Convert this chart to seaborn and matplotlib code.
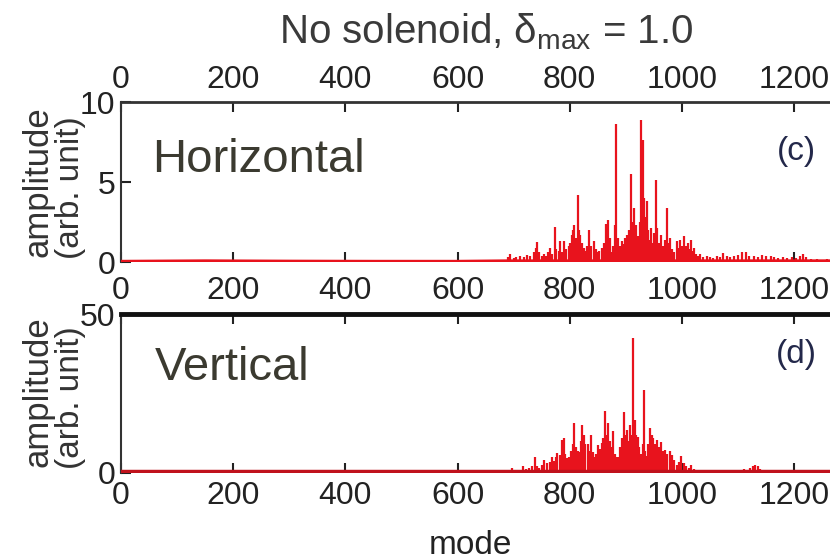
import numpy as np
import pandas as pd
import matplotlib
matplotlib.use("Agg")
import matplotlib.pyplot as plt
import seaborn as sns

# ---------------- data ----------------
h_modes = [690, 694, 700, 705, 712, 718, 724, 730, 736, 740, 742, 746, 750, 754, 758, 762, 764, 768,
           773, 776, 780, 783, 787, 790, 794, 798, 801, 804, 806, 808, 811, 814, 816, 819, 822, 825,
           828, 831, 835, 838, 843, 846, 850, 853, 857, 861, 865, 868, 871, 874, 877, 880, 883, 886,
           889, 893, 896, 899, 902, 905, 909, 911, 914, 917, 919, 922, 925, 927, 929, 931, 933, 935,
           937, 940, 942, 944, 947, 950, 953, 956, 959, 963, 966, 969, 973, 976, 978, 982, 986, 991,
           994, 997, 1001, 1004, 1007, 1010, 1013, 1016, 1019, 1021, 1025, 1029, 1033, 1038, 1045,
           1050, 1056, 1062, 1068, 1074, 1080, 1086, 1092, 1100, 1107, 1114, 1120, 1128, 1135, 1142,
           1150, 1158, 1165, 1172, 1180, 1188, 1196, 1203, 1210, 1216, 1222, 1230, 1240, 1250, 1258]
h_amps = [0.3, 0.5, 0.25, 0.3, 0.4, 0.3, 0.45, 0.35, 0.6, 0.9, 1.25, 0.6, 0.4, 0.5, 0.35, 0.6, 0.9, 0.5,
          2.2, 0.8, 0.7, 1.3, 0.6, 1.3, 0.8, 1.0, 1.2, 1.7, 2.0, 2.3, 1.5, 4.2, 2.0, 1.7, 1.2, 0.9,
          0.7, 1.0, 2.0, 1.0, 1.3, 0.8, 0.6, 0.7, 0.9, 1.2, 2.35, 2.6, 1.5, 0.6, 1.0, 2.3, 8.6, 1.5,
          1.0, 1.3, 1.1, 1.5, 1.7, 2.0, 5.5, 2.5, 3.4, 1.8, 2.3, 1.6, 2.5, 8.9, 4.6, 7.6, 4.0, 2.8,
          3.8, 2.0, 1.4, 2.1, 1.2, 1.8, 5.1, 2.1, 1.2, 1.7, 1.0, 1.4, 3.4, 1.2, 1.5, 0.8, 0.6, 1.3,
          0.9, 1.4, 1.0, 1.6, 1.0, 1.2, 0.8, 1.4, 0.7, 0.9, 0.5, 0.4, 0.5, 0.3, 0.4,
          0.3, 0.25, 0.4, 0.3, 0.55, 0.35, 0.3, 0.4, 0.45, 0.6, 0.6, 0.4, 0.35, 0.3, 0.45,
          0.4, 0.35, 0.3, 0.25, 0.3, 0.25, 0.3, 0.25, 0.35, 0.5, 0.3, 0.2, 0.2, 0.15, 0.2]

v_modes = [690, 697, 703, 710, 717, 722, 728, 733, 738, 742, 746, 750, 755, 760, 764, 768, 772, 775,
           778, 782, 786, 789, 792, 796, 799, 802, 805, 808, 811, 814, 817, 820, 822, 825, 828, 832,
           835, 838, 841, 844, 847, 851, 854, 858, 860, 863, 866, 869, 872, 875, 878, 881, 884, 887,
           890, 893, 897, 900, 902, 905, 908, 910, 912, 914, 916, 919, 921, 924, 927, 930, 932, 935,
           938, 940, 943, 946, 949, 952, 956, 959, 963, 966, 970, 974, 978, 982, 986, 991, 995, 999,
           1003, 1007, 1012, 1017, 1022, 1027, 1032, 1038, 1044, 1050, 1058, 1066, 1075, 1082, 1090,
           1097, 1104, 1110, 1116, 1122, 1127, 1131, 1135, 1140, 1146, 1155, 1165, 1180, 1200, 1220, 1240]
v_amps = [0.8, 1.5, 0.8, 1.0, 2.1, 1.2, 1.5, 2.0, 5.0, 2.0, 1.5, 2.5, 4.0, 3.0, 3.5, 4.8, 3.8, 5.0,
          6.2, 5.5, 10.3, 10.8, 6.0, 4.5, 4.8, 7.0, 9.0, 15.8, 8.0, 7.0, 6.6, 10.0, 15.0, 12.0, 9.0, 9.0,
          7.0, 12.0, 6.6, 5.0, 6.0, 8.8, 7.5, 9.3, 11.0, 19.6, 12.0, 15.7, 10.0, 8.0, 13.1, 6.0, 5.0, 4.8,
          8.0, 11.0, 19.2, 12.0, 13.5, 10.0, 15.0, 12.0, 42.4, 14.0, 16.6, 12.0, 11.3, 8.0, 6.0, 9.0, 26.1, 7.0,
          5.2, 9.0, 14.0, 12.0, 10.8, 9.0, 10.3, 8.0, 9.8, 7.0, 7.2, 6.0, 6.7, 5.7, 4.0, 2.5, 3.5, 5.2,
          3.0, 2.1, 1.5, 2.3, 1.2, 1.0, 1.0, 0.7, 0.8, 0.5, 0.4, 0.3, 0.5, 0.7, 0.9,
          1.0, 0.8, 1.2, 1.0, 1.5, 2.0, 2.4, 2.0, 1.2, 0.6, 0.4, 0.3, 0.3, 0.2, 0.2, 0.2]

floor_modes = [0, 150, 300, 450, 600, 690, 1264]
h_floor = [0.05, 0.08, 0.06, 0.05, 0.05, 0.08, 0.08]
v_floor = [0.3, 0.3, 0.3, 0.3, 0.3, 0.3, 0.3]

x_ticks = [0, 200, 400, 600, 800, 1000, 1200]
h_yticks = [0, 5, 10]
v_yticks = [0, 50]

# ---------------- style ----------------
sns.set_theme(style="white")
plt.rcParams['font.family'] = ['Liberation Sans', 'DejaVu Sans']
plt.rcParams['mathtext.fontset'] = 'custom'
plt.rcParams['mathtext.rm'] = 'Liberation Sans'
plt.rcParams['mathtext.it'] = 'Liberation Sans:italic'

RED = '#e8131d'
DARKRED = '#c0121c'
TXT = '#222222'
W, H = 830, 560
fig = plt.figure(figsize=(8.3, 5.6), dpi=100)

def fx(px):
    return px / W

def fy(py):
    return 1 - py / H

ax1 = fig.add_axes([fx(121), fy(262), fx(709), 160 / H])
ax2 = fig.add_axes([fx(121), fy(472.7), fx(709), 158.4 / H])

hdf = pd.DataFrame({'mode': h_modes, 'amp': h_amps})
vdf = pd.DataFrame({'mode': v_modes, 'amp': v_amps})
hfl = pd.DataFrame({'mode': floor_modes, 'amp': h_floor})
vfl = pd.DataFrame({'mode': floor_modes, 'amp': v_floor})

ax1.vlines(hdf['mode'], 0, hdf['amp'], color=RED, lw=1.6, zorder=3)
sns.lineplot(data=hfl, x='mode', y='amp', ax=ax1, color=RED, lw=2.0, estimator=None, zorder=4)
ax2.vlines(vdf['mode'], 0, vdf['amp'], color=RED, lw=1.6, zorder=3)
sns.lineplot(data=vfl, x='mode', y='amp', ax=ax2, color=DARKRED, lw=3.2, estimator=None, zorder=4)

TICK_SIZE = 23

for ax, yt, ymax in [(ax1, h_yticks, 10), (ax2, v_yticks, 50)]:
    ax.set_xlim(0, 1264)
    ax.set_ylim(0, ymax)
    ax.set_xticks(x_ticks)
    ax.set_yticks(yt)
    ax.set_xlabel('')
    ax.set_ylabel('')
    ax.spines['right'].set_visible(False)
    ax.spines['bottom'].set_visible(False)
    ax.spines['left'].set_color('#333333')
    ax.spines['left'].set_linewidth(1.5)
    ax.tick_params(axis='both', direction='in', length=7, width=1.5, color='#222222',
                   labelsize=TICK_SIZE, labelcolor=TXT)
    ax.tick_params(axis='x', top=True, bottom=True)
    ax.tick_params(axis='y', left=True, right=False, pad=4)

ax1.spines['top'].set_color('#333333')
ax1.spines['top'].set_linewidth(2.0)
ax1.tick_params(axis='x', labeltop=True, labelbottom=False, pad=5)
ax2.spines['top'].set_color('#111111')
ax2.spines['top'].set_linewidth(3.5)
ax2.tick_params(axis='x', labeltop=True, labelbottom=True, pad=6)

# axis labels
fig.text(fx(470), fy(545), 'mode', ha='center', va='center', fontsize=24, color=TXT)
for yc in (182, 392):
    fig.text(fx(38), fy(yc), 'amplitude', rotation=90, ha='center', va='center',
             fontsize=25, color='#333333')
    fig.text(fx(70), fy(yc + 6), '(arb. unit)', rotation=90, ha='center', va='center',
             fontsize=24, color='#333333')

# title and panel texts
fig.text(fx(486), fy(32), 'No solenoid, $\\mathrm{\u03b4}_{\\mathrm{max}}$ = 1.0', ha='center', va='center',
         fontsize=29, color='#3a3a3a')
fig.text(fx(152), fy(172), 'Horizontal', ha='left', va='baseline', fontsize=34, color='#3b3a30')
fig.text(fx(155), fy(380), 'Vertical', ha='left', va='baseline', fontsize=34, color='#3b3a30')
fig.text(fx(796), fy(152), '(c)', ha='center', va='center', fontsize=24, color='#23284a')
fig.text(fx(796), fy(355), '(d)', ha='center', va='center', fontsize=24, color='#23284a')

fig.savefig('out.png', dpi=100)
